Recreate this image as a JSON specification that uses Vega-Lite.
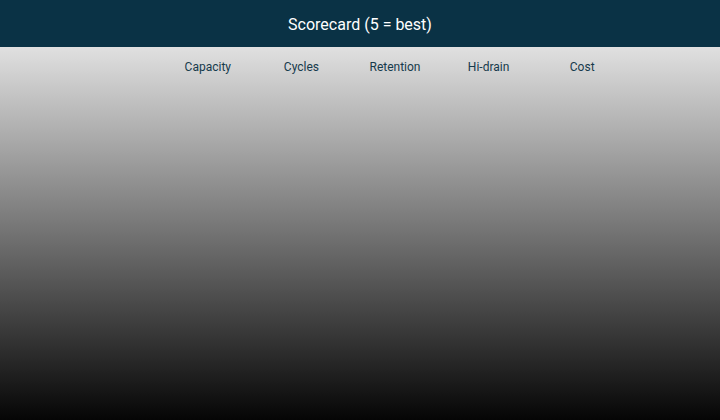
{
  "$schema": "https://vega.github.io/schema/vega-lite/v6.json",
  "width": 720,
  "height": 373,
  "autosize": {"type": "none"},
  "padding": {"top": 47, "left": 0, "right": 0, "bottom": 0},
  "background": "#0a3245",
  "title": {
    "text": "Scorecard (5 = best)",
    "font": "Roboto",
    "fontSize": 16,
    "fontWeight": "normal",
    "color": "#ffffff",
    "anchor": "middle",
    "baseline": "alphabetic",
    "offset": 1
  },
  "data": {
    "values": [
      {"metric": "Capacity"},
      {"metric": "Cycles"},
      {"metric": "Retention"},
      {"metric": "Hi-drain"},
      {"metric": "Cost"}
    ]
  },
  "mark": {"type": "rect", "opacity": 0},
  "encoding": {
    "x": {
      "field": "metric",
      "type": "nominal",
      "sort": null,
      "scale": {"paddingInner": 0, "paddingOuter": 0, "range": [161, 629]},
      "axis": {
        "orient": "top",
        "title": null,
        "domain": false,
        "ticks": false,
        "tickSize": 0,
        "grid": false,
        "labelAngle": 0,
        "labelPadding": 0,
        "offset": -26,
        "labelFont": "Roboto",
        "labelFontSize": 12,
        "labelColor": "#163a4c"
      }
    }
  },
  "config": {
    "view": {
      "stroke": null,
      "fill": {
        "gradient": "linear",
        "x1": 0, "y1": 0, "x2": 0, "y2": 1,
        "stops": [
          {"offset": 0, "color": "#e0e0e0"},
          {"offset": 1, "color": "#050505"}
        ]
      }
    }
  }
}
